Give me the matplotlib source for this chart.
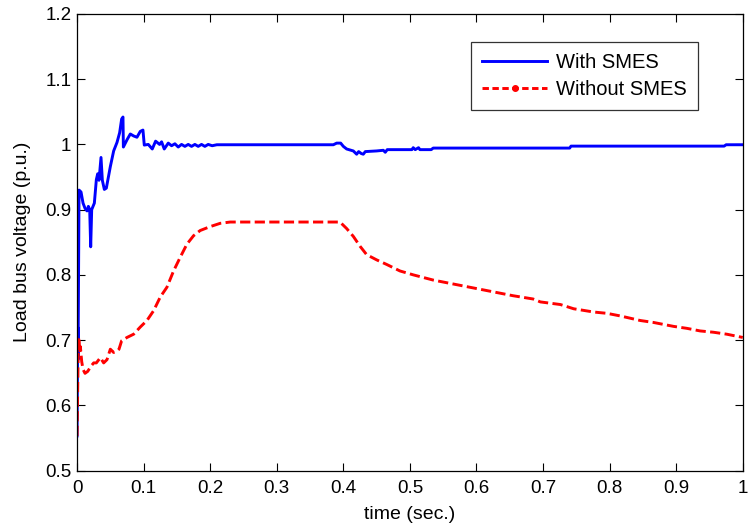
import matplotlib
matplotlib.use('Agg')
import matplotlib.pyplot as plt
from matplotlib.lines import Line2D

plt.rcParams['font.family'] = ['Liberation Sans', 'DejaVu Sans']

# load bus voltage with SMES (p.u.)
t_with = [0, 0.001, 0.0015, 0.003, 0.006, 0.009, 0.012, 0.015, 0.017, 0.019,
          0.0205, 0.022, 0.024, 0.026, 0.029, 0.031, 0.033, 0.036, 0.038, 0.041,
          0.044, 0.05, 0.055, 0.06, 0.064, 0.067, 0.069, 0.0696, 0.075, 0.08,
          0.085, 0.09, 0.095, 0.099, 0.101, 0.107, 0.113, 0.118, 0.124, 0.127,
          0.131, 0.137, 0.142, 0.147, 0.152, 0.157, 0.162, 0.167, 0.172, 0.177,
          0.182, 0.187, 0.192, 0.197, 0.203, 0.21, 0.22, 0.385, 0.39, 0.396,
          0.40, 0.405, 0.415, 0.42, 0.423, 0.427, 0.43, 0.433, 0.45, 0.46,
          0.463, 0.466, 0.47, 0.49, 0.503, 0.505, 0.508, 0.513, 0.515, 0.518,
          0.532, 0.535, 0.74, 0.742, 0.972, 0.975, 1.0]
v_with = [0.553, 0.72, 0.67, 0.93, 0.927, 0.91, 0.902, 0.898, 0.905, 0.90,
          0.843, 0.90, 0.905, 0.91, 0.946, 0.955, 0.945, 0.98, 0.945, 0.931,
          0.933, 0.966, 0.99, 1.003, 1.018, 1.039, 1.042, 0.996, 1.007, 1.016,
          1.013, 1.011, 1.02, 1.022, 0.999, 1.0, 0.993, 1.005, 1.0, 1.004,
          0.993, 1.002, 0.998, 1.001, 0.996, 1.0, 0.997, 1.0, 0.997, 1.0,
          0.997, 1.0, 0.997, 1.0, 0.998, 0.9995, 0.9995, 0.9995, 1.002, 1.002,
          0.997, 0.993, 0.99, 0.985, 0.989, 0.986, 0.985, 0.989, 0.99, 0.991,
          0.988, 0.992, 0.992, 0.992, 0.992, 0.995, 0.992, 0.995, 0.992, 0.992,
          0.992, 0.9944, 0.9944, 0.9974, 0.9974, 0.9995, 0.9995]

# load bus voltage without SMES (p.u.)
t_without = [0, 0.002, 0.003, 0.004, 0.005, 0.007, 0.009, 0.012, 0.016, 0.021,
             0.025, 0.029, 0.035, 0.04, 0.045, 0.05, 0.055, 0.06, 0.063, 0.067,
             0.075, 0.085, 0.095, 0.105, 0.115, 0.125, 0.135, 0.145, 0.155, 0.165,
             0.175, 0.185, 0.2, 0.215, 0.23, 0.395, 0.405, 0.415, 0.425, 0.435,
             0.45, 0.465, 0.485, 0.505, 0.535, 0.565, 0.595, 0.625, 0.655, 0.685,
             0.696, 0.726, 0.746, 0.776, 0.796, 0.816, 0.846, 0.866, 0.896, 0.916,
             0.936, 0.956, 0.976, 1.0]
v_without = [0.553, 0.70, 0.705, 0.68, 0.69, 0.667, 0.655, 0.649, 0.652, 0.66,
             0.665, 0.665, 0.673, 0.665, 0.67, 0.686, 0.681, 0.683, 0.686, 0.699,
             0.704, 0.709, 0.72, 0.73, 0.745, 0.766, 0.781, 0.806, 0.827, 0.847,
             0.860, 0.868, 0.874, 0.879, 0.881, 0.881, 0.871, 0.859, 0.844, 0.831,
             0.823, 0.816, 0.806, 0.80, 0.792, 0.786, 0.78, 0.774, 0.768, 0.763,
             0.7585, 0.7545, 0.748, 0.743, 0.741, 0.737, 0.730, 0.727, 0.721, 0.718,
             0.714, 0.712, 0.709, 0.704]

xticks = [0, 0.1, 0.2, 0.3, 0.4, 0.5, 0.6, 0.7, 0.8, 0.9, 1]
xtick_labels = ['0', '0.1', '0.2', '0.3', '0.4', '0.5', '0.6', '0.7', '0.8', '0.9', '1']
yticks = [0.5, 0.6, 0.7, 0.8, 0.9, 1.0, 1.1, 1.2]
ytick_labels = ['0.5', '0.6', '0.7', '0.8', '0.9', '1', '1.1', '1.2']

fig = plt.figure(figsize=(7.48, 5.32), dpi=100)
ax = fig.add_axes([0.103, 0.1156, 0.890, 0.8581])

ax.plot(t_with, v_with, color='blue', lw=2.1)
ax.plot(t_without, v_without, color='red', lw=2.1, ls='--', dashes=(3.5, 1.5))

ax.set_xlim(0, 1)
ax.set_ylim(0.5, 1.2)
ax.set_xticks(xticks)
ax.set_xticklabels(xtick_labels)
ax.set_yticks(yticks)
ax.set_yticklabels(ytick_labels)
ax.tick_params(direction='in', length=6, width=0.8, top=True, right=True,
               labelsize=13.5)
ax.tick_params(axis='x', pad=7)
ax.tick_params(axis='y', pad=4)
for sp in ax.spines.values():
    sp.set_linewidth(0.9)

ax.set_xlabel('time (sec.)', fontsize=14, labelpad=6)
ax.set_ylabel('Load bus voltage (p.u.)', fontsize=14, labelpad=10)

handles = [Line2D([], [], color='blue', lw=2.1),
           Line2D([], [], color='red', lw=2.1, ls='--', dashes=(2.2, 1.2),
                  marker='.', markersize=8)]
leg = ax.legend(handles, ['With SMES', 'Without SMES'], loc='upper right',
                bbox_to_anchor=(0.9325, 0.9387), borderaxespad=0,
                fontsize=14.5, frameon=True, fancybox=False,
                edgecolor='black', handlelength=3.2, borderpad=0.55,
                labelspacing=0.4, handletextpad=0.45)
leg.get_frame().set_linewidth(0.9)

fig.savefig('out.png', dpi=100)
